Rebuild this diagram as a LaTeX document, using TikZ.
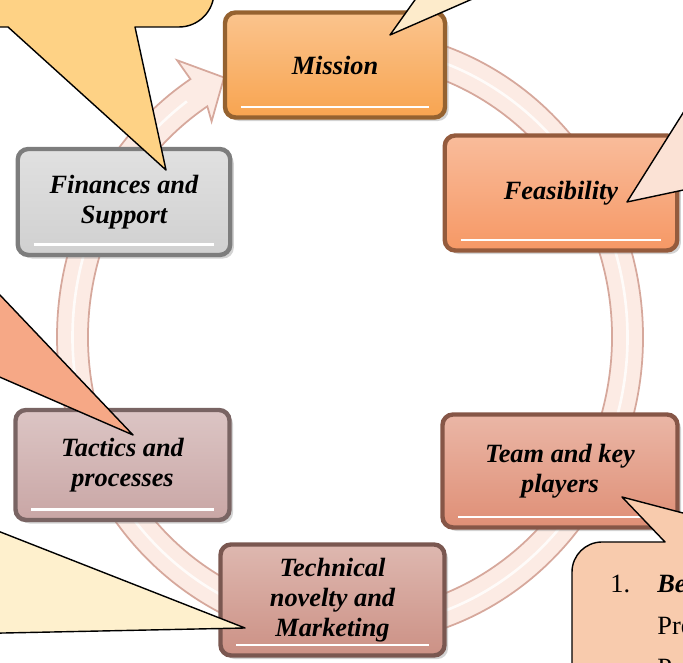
\documentclass[tikz,border=0pt]{standalone}
\usepackage{fontspec}
\setmainfont{Liberation Serif}
\usetikzlibrary{shadows}

\definecolor{missionclr}{HTML}{F8A450}
\definecolor{feasclr}{HTML}{F69865}
\definecolor{teamclr}{HTML}{DF8F76}
\definecolor{techclr}{HTML}{CC9185}
\definecolor{tactclr}{HTML}{C9A6A5}
\definecolor{finclr}{HTML}{D0D0D0}
\definecolor{ringfill}{HTML}{FCEBE4}
\definecolor{ringline}{HTML}{D6A89C}
\definecolor{calloutA}{HTML}{FED285}
\definecolor{calloutB}{HTML}{FDEBCB}
\definecolor{calloutC}{HTML}{FBE2D5}
\definecolor{calloutD}{HTML}{F6A886}
\definecolor{calloutE}{HTML}{FEF0CD}
\definecolor{calloutF}{HTML}{F8CBAD}

\tikzset{
  stagebox/.style={rounded corners=6pt, line width=2.5pt, draw=#1!60!black,
    top color=#1!65!white, bottom color=#1,
    drop shadow={opacity=0.35, shadow xshift=2pt, shadow yshift=-2pt},
    font=\fontsize{15}{17}\selectfont\bfseries\itshape, align=center,
    path picture={\draw[white, line width=1.6pt]
      ([xshift=9pt,yshift=6pt]path picture bounding box.south west) --
      ([xshift=-9pt,yshift=6pt]path picture bounding box.south east);}},
  callout/.style={draw=black, line width=0.8pt, line join=round},
  bubbletext/.style={anchor=base west, inner sep=0pt, font=\fontsize{15}{18}\selectfont},
}

\begin{document}
\begin{tikzpicture}

\useasboundingbox (0,0) rectangle (13.66,13.26);
\clip (0,0) rectangle (13.66,13.26);

% ring with arrow head
\coordinate (ringc) at (7.0,6.52);
\path [fill=ringfill, draw=ringline, line width=1pt]
([shift={(95:5.86 and 6.15)}]ringc) arc[start angle=95, end angle=-237, x radius=5.86, y radius=6.15]
-- ([shift={(123:6.35 and 6.6)}]ringc)
-- ([shift={(117:5.55 and 5.825)}]ringc)
-- ([shift={(124:4.95 and 5.2)}]ringc)
-- ([shift={(123:5.24 and 5.5)}]ringc)
arc[start angle=-237, end angle=95, x radius=5.24, y radius=5.5]
-- cycle;

\draw [white, line width=1.5pt, opacity=0.8]
([shift={(95:5.55 and 5.825)}]ringc) arc[start angle=95, end angle=-234, x radius=5.55, y radius=5.825];

% stages
\node[stagebox=missionclr, minimum width=4.4cm, minimum height=2.1cm] (mission) at (6.70,11.96) {Mission};
\node[stagebox=feasclr, minimum width=4.65cm, minimum height=2.3cm] (feas) at (11.22,9.40) {Feasibility};
\node[stagebox=teamclr, minimum width=4.7cm, minimum height=2.26cm] (team) at (11.20,3.84) {Team and key\\players};
\node[stagebox=techclr, minimum width=4.48cm, minimum height=2.22cm] (tech) at (6.65,1.26) {Technical\\novelty and\\Marketing};
\node[stagebox=tactclr, minimum width=4.28cm, minimum height=2.2cm] (tact) at (2.45,3.96) {Tactics and\\processes};
\node[stagebox=finclr, minimum width=4.25cm, minimum height=2.12cm] (fin) at (2.48,9.22) {Finances and\\Support};

% callouts
\coordinate (finTip) at (3.32,9.86);
\coordinate (missTip) at (7.80,12.56);
\coordinate (feasTip) at (12.54,9.22);
\coordinate (tactTip) at (2.66,4.56);
\coordinate (techTip) at (4.90,0.70);
\coordinate (teamTip) at (12.44,3.32);

\path [callout, fill=calloutA] (-0.5,14) -- (4.28,14) -- (4.28,13.42)
arc[start angle=0, end angle=-90, radius=0.7] -- (2.70,12.72) -- (finTip)
-- (0.16,12.72) -- (-0.5,12.72) -- cycle;

\path [callout, fill=calloutB] (missTip) -- (8.54,13.6) -- (10.18,13.6) -- cycle;
\path [callout, fill=calloutC] (feasTip) -- (14,11.54) -- (14,9.53) -- cycle;
\path [callout, fill=calloutD] (tactTip) -- (-0.4,7.78) -- (-0.4,5.89) -- cycle;
\path [callout, fill=calloutE] (techTip) -- (-0.4,2.78) -- (-0.4,0.59) -- cycle;

\path [callout, fill=calloutF] (11.44,-0.5) -- (11.44,1.82)
arc[start angle=180, end angle=90, radius=0.6] -- (13.30,2.42) -- (teamTip)
-- (14,2.91) -- (14,-0.5) -- cycle;

\node[bubbletext] (itemnum) at (12.2,1.40) {1.};
\node[bubbletext, font=\fontsize{15}{18}\selectfont\bfseries\itshape] (itemhead) at (13.14,1.40) {Be};
\node[bubbletext] (itemline) at (13.14,0.56) {Pre};
\node[bubbletext] (itemnext) at (13.14,-0.28) {Pe};

\end{tikzpicture}
\end{document}
